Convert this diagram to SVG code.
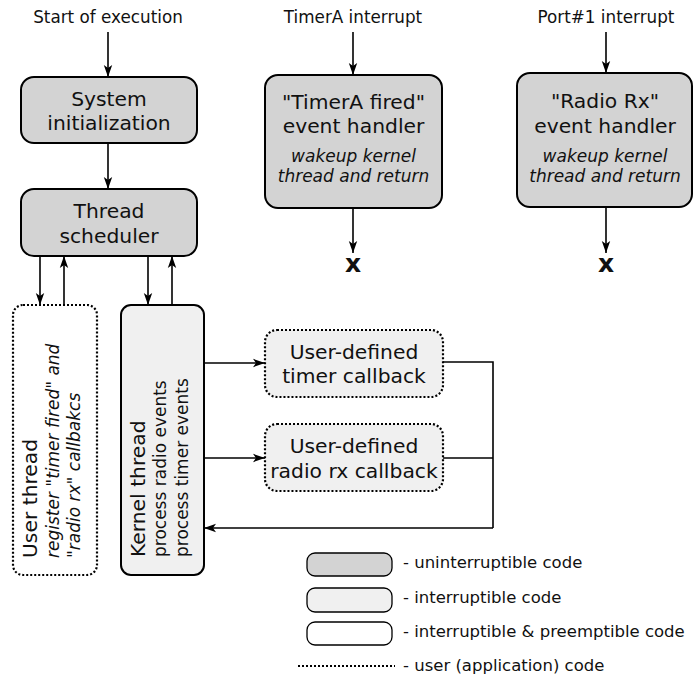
<svg xmlns="http://www.w3.org/2000/svg" width="694" height="678" viewBox="0 0 694 678">
  <defs>
    <marker id="arrow" viewBox="-13 -5 14 10" refX="0" refY="0" markerWidth="14" markerHeight="10" markerUnits="userSpaceOnUse" orient="auto">
      <path d="M0,0 L-12,-4.2 L-9,0 L-12,4.2 Z" fill="#000"/>
    </marker>
  </defs>
  <style>
    text { font-family: "DejaVu Sans", "Liberation Sans", sans-serif; fill: #111; }
    .lbl { font-size: 16.8px; text-anchor: middle; }
    .big { font-size: 20.3px; text-anchor: middle; }
    .it { font-size: 17px; font-style: italic; text-anchor: middle; }
    .x { font-size: 25px; font-weight: bold; text-anchor: middle; }
    .rot { font-size: 20.3px; }
    .rotsm { font-size: 17px; }
    .rotit { font-size: 17px; font-style: italic; }
    .leg { font-size: 16.5px; }
    .dark { fill: #d3d3d3; stroke: #000; stroke-width: 2; }
    .light { fill: #f0f0f0; stroke: #000; stroke-width: 2; }
    .white { fill: #fff; stroke: #000; stroke-width: 2; }
    .dotted { stroke-dasharray: 2 2; stroke-width: 2.2; }
    .conn { fill: none; stroke: #000; stroke-width: 1.6; }
    .arr { marker-end: url(#arrow); }
  </style>

  <!-- entry labels -->
  <text class="lbl" x="108" y="23">Start of execution</text>
  <text class="lbl" x="353" y="23">TimerA interrupt</text>
  <text class="lbl" x="606" y="23">Port#1 interrupt</text>

  <!-- connectors -->
  <g id="connectors">
    <line class="conn arr" x1="108" y1="32" x2="108" y2="77"/>
    <line class="conn arr" x1="108" y1="143" x2="108" y2="189"/>
    <line class="conn arr" x1="353" y1="32" x2="353" y2="75"/>
    <line class="conn arr" x1="606" y1="32" x2="606" y2="73"/>
    <line class="conn arr" x1="353" y1="208" x2="353" y2="253"/>
    <line class="conn arr" x1="606" y1="207" x2="606" y2="253"/>
    <line class="conn arr" x1="40" y1="256" x2="40" y2="305"/>
    <line class="conn arr" x1="64" y1="305" x2="64" y2="256"/>
    <line class="conn arr" x1="148" y1="256" x2="148" y2="305"/>
    <line class="conn arr" x1="172" y1="305" x2="172" y2="256"/>
    <line class="conn arr" x1="204" y1="363" x2="265" y2="363"/>
    <line class="conn arr" x1="204" y1="458" x2="265" y2="458"/>
    <polyline class="conn" points="443,362 493,362 493,528"/>
    <line class="conn" x1="443" y1="458" x2="493" y2="458"/>
    <line class="conn arr" x1="493" y1="528" x2="204" y2="528"/>
  </g>

  <g id="sysinit">
    <rect class="dark" x="21" y="77" width="176" height="66" rx="13"/>
    <text class="big" x="109" y="106">System</text>
    <text class="big" x="109" y="130">initialization</text>
  </g>

  <g id="scheduler">
    <rect class="dark" x="21" y="189" width="176" height="67" rx="13"/>
    <text class="big" x="109" y="218">Thread</text>
    <text class="big" x="109" y="243">scheduler</text>
  </g>

  <g id="timerA-handler">
    <rect class="dark" x="265" y="75" width="177" height="133" rx="13"/>
    <text class="big" x="353.5" y="109">"TimerA fired"</text>
    <text class="big" x="353.5" y="133">event handler</text>
    <text class="it" x="353.5" y="162">wakeup kernel</text>
    <text class="it" x="353.5" y="182">thread and return</text>
  </g>
  <text class="x" x="353" y="272">x</text>

  <g id="radio-handler">
    <rect class="dark" x="517" y="73" width="175" height="134" rx="13"/>
    <text class="big" x="605" y="108">"Radio Rx"</text>
    <text class="big" x="605" y="133">event handler</text>
    <text class="it" x="605" y="162">wakeup kernel</text>
    <text class="it" x="605" y="182">thread and return</text>
  </g>
  <text class="x" x="606" y="272">x</text>

  <g id="user-thread">
    <rect class="white dotted" x="13" y="305" width="84" height="270" rx="10"/>
    <text class="rot" transform="translate(37,558) rotate(-90)">User thread</text>
    <text class="rotit" transform="translate(59,558) rotate(-90)">register "timer fired" and</text>
    <text class="rotit" transform="translate(80,558) rotate(-90)">"radio rx" callbakcs</text>
  </g>

  <g id="kernel-thread">
    <rect class="light" x="121" y="305" width="83" height="270" rx="10"/>
    <text class="rot" transform="translate(145,557) rotate(-90)">Kernel thread</text>
    <text class="rotsm" transform="translate(166,557) rotate(-90)">process radio events</text>
    <text class="rotsm" transform="translate(188,557) rotate(-90)">process timer events</text>
  </g>

  <g id="timer-callback">
    <rect class="light dotted" x="265" y="330" width="178" height="67" rx="12"/>
    <text class="big" x="354" y="359">User-defined</text>
    <text class="big" x="354" y="383">timer callback</text>
  </g>

  <g id="radio-callback">
    <rect class="light dotted" x="265" y="424" width="178" height="67" rx="12"/>
    <text class="big" x="354" y="453">User-defined</text>
    <text class="big" x="354" y="478">radio rx callback</text>
  </g>

  <!-- legend -->
  <g id="legend">
    <rect class="dark" x="307" y="553" width="85" height="23" rx="8" style="stroke-width:1.3"/>
    <text class="leg" x="403" y="568">- uninterruptible code</text>
    <rect class="light" x="307" y="588" width="85" height="24" rx="8" style="stroke-width:1.3"/>
    <text class="leg" x="403" y="603">- interruptible code</text>
    <rect class="white" x="307" y="622" width="85" height="23" rx="8" style="stroke-width:1.3"/>
    <text class="leg" x="403" y="637">- interruptible &amp; preemptible code</text>
    <line class="dotted" x1="298" y1="666" x2="395" y2="666" stroke="#000"/>
    <text class="leg" x="403" y="671">- user (application) code</text>
  </g>
</svg>
